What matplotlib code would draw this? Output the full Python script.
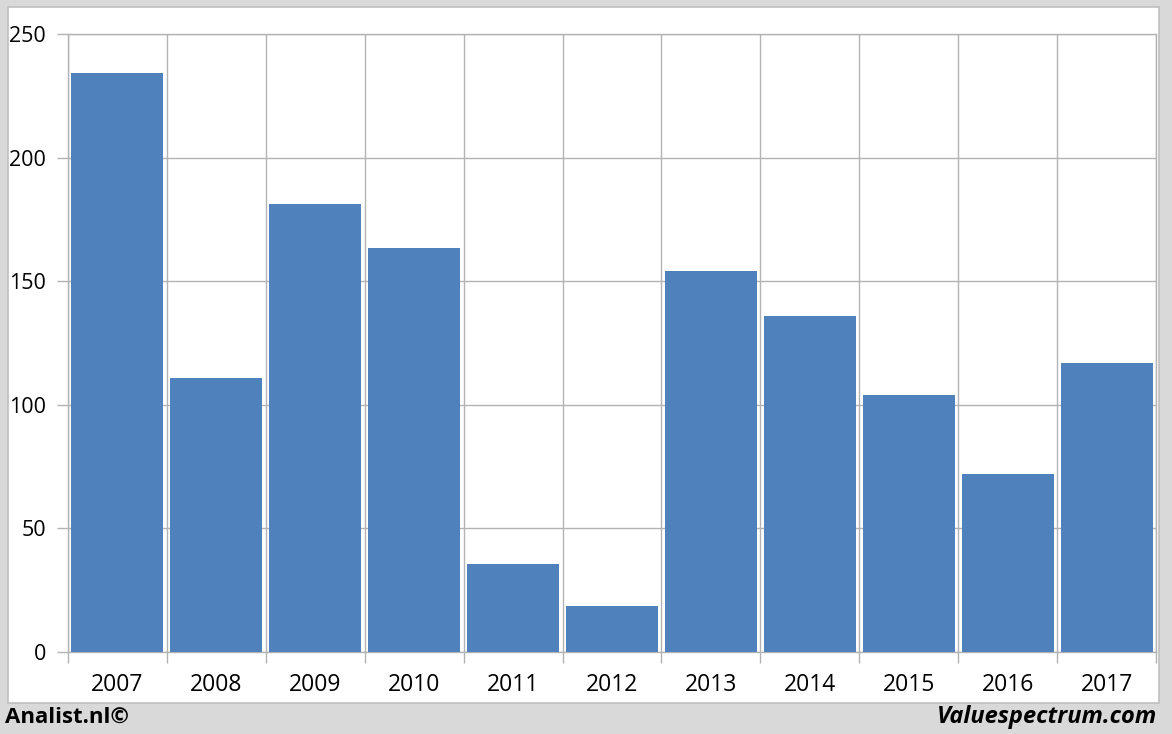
import matplotlib.pyplot as plt
from matplotlib.patches import Rectangle

years = ["2007", "2008", "2009", "2010", "2011", "2012",
         "2013", "2014", "2015", "2016", "2017"]
values = [234.2, 110.8, 181.2, 163.4, 35.6, 18.6,
          154.1, 135.9, 104.0, 72.0, 116.9]
yticks = [0, 50, 100, 150, 200, 250]

BAR = "#4F81BD"
GRID = "#B3B3B3"


def plot_data():
    plt.rcParams["font.family"] = ["Open Sans", "DejaVu Sans"]
    fig = plt.figure(figsize=(11.72, 7.34), dpi=100)
    fig.patch.set_facecolor("#D9D9D9")

    # white panel behind the chart
    panel = Rectangle((8 / 1172, 1 - 703 / 734), 1151 / 1172, 696 / 734,
                      transform=fig.transFigure, facecolor="white",
                      edgecolor="#BFBFBF", linewidth=1.2, zorder=-5)
    fig.patches.append(panel)

    ax = fig.add_axes([68 / 1172, 1 - 652 / 734, 1088 / 1172, 618 / 734])
    ax.set_facecolor("none")
    ax.set_zorder(1)

    x = list(range(len(years)))
    ax.bar(x, values, width=0.93, color=BAR, zorder=3)

    ax.set_xlim(-0.5, len(years) - 0.5)
    ax.set_ylim(0, 250)
    ax.set_yticks(yticks)
    ax.set_xticks(x)
    ax.set_xticklabels(years)
    ax.set_xticks([i - 0.5 for i in range(len(years) + 1)], minor=True)

    ax.grid(True, axis="y", color=GRID, linewidth=1.0, zorder=0)
    ax.grid(True, axis="x", which="minor", color=GRID, linewidth=1.0, zorder=0)
    ax.grid(False, axis="x", which="major")

    ax.tick_params(axis="x", which="major", length=0, pad=15, labelsize=16.5)
    ax.tick_params(axis="x", which="minor", length=8, color=GRID, width=1.0)
    ax.tick_params(axis="y", length=8, color=GRID, width=1.0, pad=8,
                   labelsize=15.5)
    for s in ax.spines.values():
        s.set_color(GRID)
        s.set_linewidth(1.0)

    fig.text(5 / 1172, 1 - 717 / 734, "Analist.nl\u00a9", fontsize=16,
             fontweight="bold", ha="left", va="center")
    fig.text(1157 / 1172, 1 - 717 / 734, "Valuespectrum.com", fontsize=17,
             fontweight="bold", fontstyle="italic", ha="right", va="center")

    fig.savefig("out.png", dpi=100, facecolor=fig.get_facecolor())


def main():
    plot_data()


if __name__ == "__main__":
    main()
